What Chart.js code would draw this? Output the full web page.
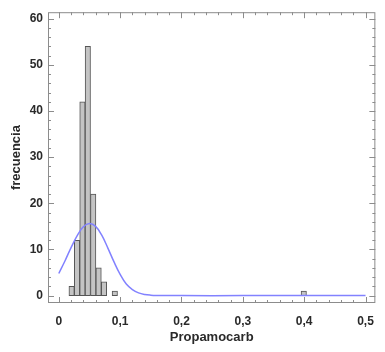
<!DOCTYPE html>
<html>
<head>
<meta charset="utf-8">
<script src="https://cdn.jsdelivr.net/npm/chart.js@4/dist/chart.umd.min.js"></script>
<style>
  html, body { margin: 0; padding: 0; background: #fff; }
  #wrap { width: 385px; height: 352px; }
</style>
</head>
<body>
<div id="wrap"><canvas id="hist"></canvas></div>
<script>
// histogram bins (centres) and counts
var binCenters = [0.0209, 0.0297, 0.0385, 0.0473, 0.0561, 0.0649, 0.0737, 0.0913, 0.3993];
var binCounts  = [2, 12, 42, 54, 22, 6, 3, 1, 1];

// fitted normal curve
var curveX = [0, 0.01, 0.02, 0.03, 0.04, 0.05, 0.06, 0.07, 0.08, 0.09, 0.10, 0.11, 0.12, 0.13, 0.14, 0.15, 0.16, 0.2, 0.3, 0.4, 0.5];
var curveY = [4.8, 7.5, 10.4, 13.0, 14.9, 15.6, 15.0, 13.1, 10.3, 7.3, 4.6, 2.5, 1.3, 0.6, 0.25, 0.1, 0.05, 0, 0, 0, 0];

var xTicks = [0, 0.1, 0.2, 0.3, 0.4, 0.5];
var yTicks = [0, 10, 20, 30, 40, 50, 60];

var bars = [];
for (var i = 0; i < binCenters.length; i++) bars.push({x: binCenters[i], y: binCounts[i]});
var curve = [];
for (var i = 0; i < curveX.length; i++) curve.push({x: curveX[i], y: curveY[i]});

// frame with inward ticks on all four sides
var frameTicks = {
  id: 'frameTicks',
  afterDatasetsDraw: function(chart) {
    var ctx = chart.ctx, a = chart.chartArea, sx = chart.scales.x, sy = chart.scales.y;
    ctx.save();
    ctx.strokeStyle = '#8c8c8c';
    ctx.lineWidth = 1;
    ctx.strokeRect(a.left + 0.5, a.top + 0.5, a.width - 1, a.height - 1);
    ctx.beginPath();
    for (var i = 0; i <= 25; i++) {
      var px = Math.round(sx.getPixelForValue(i * 0.02)) + 0.5;
      var len = (i % 5 === 0) ? 6 : 3;
      ctx.moveTo(px, a.bottom); ctx.lineTo(px, a.bottom - len);
      ctx.moveTo(px, a.top); ctx.lineTo(px, a.top + len);
    }
    for (var j = 0; j <= 30; j++) {
      var py = Math.round(sy.getPixelForValue(j * 2)) + 0.5;
      var l2 = (j % 5 === 0) ? 6 : 3;
      ctx.moveTo(a.left, py); ctx.lineTo(a.left + l2, py);
      ctx.moveTo(a.right, py); ctx.lineTo(a.right - l2, py);
    }
    ctx.stroke();
    ctx.restore();
  }
};

var fontFam = '"Liberation Sans", Arial, sans-serif';

new Chart('hist', {
  type: 'bar',
  data: {
    datasets: [{
      type: 'line',
      data: curve,
      borderColor: '#8282ff',
      borderWidth: 1.5,
      pointRadius: 0,
      tension: 0.4,
      fill: false
    }, {
      type: 'bar',
      data: bars,
      backgroundColor: '#c4c4c4',
      borderColor: '#555555',
      borderWidth: 1,
      borderSkipped: false,
      barPercentage: 1,
      categoryPercentage: 1,
      grouped: false
    }]
  },
  options: {
    responsive: true,
    maintainAspectRatio: false,
    animation: false,
    layout: { padding: { top: 10, right: 4, left: 0, bottom: 0 } },
    plugins: { legend: { display: false }, tooltip: { enabled: false } },
    scales: {
      x: {
        type: 'linear',
        min: -0.0176,
        max: 0.516,
        offset: false,
        grid: { display: false, drawTicks: false },
        border: { display: false },
        afterFit: function(s) { s.height = 49; },
        afterBuildTicks: function(s) { s.ticks = xTicks.map(function(v) { return {value: v}; }); },
        ticks: {
          padding: 11,
          color: '#2a2a2a',
          font: { family: fontFam, size: 12, weight: 'bold' },
          callback: function(v) { return (Math.round(v * 10) / 10).toString().replace('.', ','); }
        },
        title: {
          display: true,
          text: 'Propamocarb',
          color: '#2a2a2a',
          font: { family: fontFam, size: 13, weight: 'bold' },
          padding: { top: 0, bottom: 7 }
        }
      },
      y: {
        min: -1.6,
        max: 61.4,
        grid: { display: false, drawTicks: false },
        border: { display: false },
        afterFit: function(s) { s.width = 48; },
        afterBuildTicks: function(s) { s.ticks = yTicks.map(function(v) { return {value: v}; }); },
        ticks: {
          padding: 5,
          color: '#2a2a2a',
          font: { family: fontFam, size: 12, weight: 'bold' }
        },
        title: {
          display: true,
          text: 'frecuencia',
          color: '#2a2a2a',
          font: { family: fontFam, size: 13, weight: 'bold' },
          padding: { top: 9, bottom: 0 }
        }
      }
    }
  },
  plugins: [frameTicks]
});
</script>
</body>
</html>
